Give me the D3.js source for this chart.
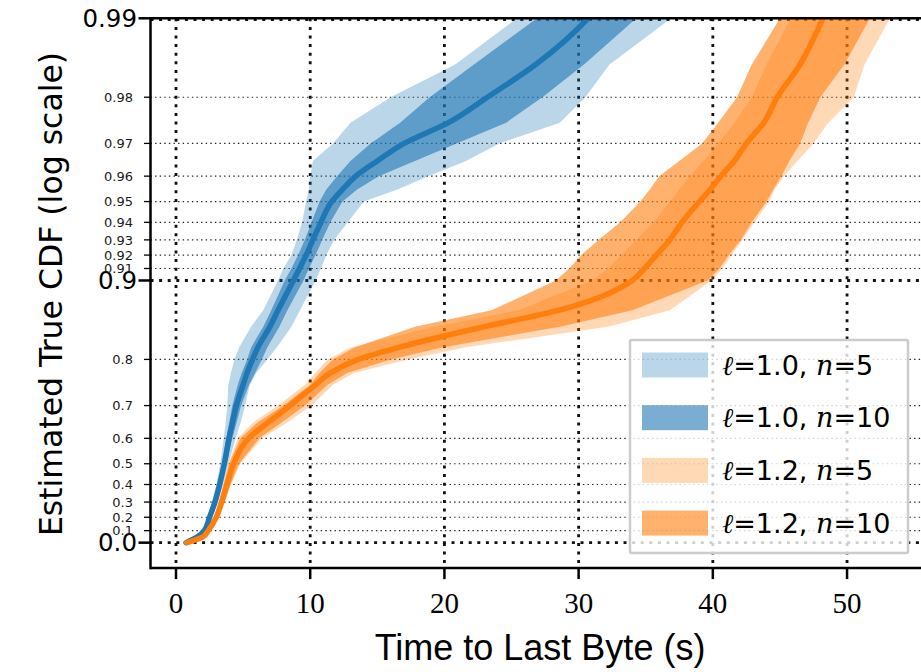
<!DOCTYPE html>
<html><head><meta charset="utf-8">
<script src="https://cdn.jsdelivr.net/npm/d3@7"></script>
<style>body{margin:0;background:#fff}svg{display:block}</style>
</head><body><svg id="c" width="921" height="672"></svg>
<script>
// CDF levels (shared by every band / median)
const P = [0, 0.05, 0.1, 0.2, 0.3, 0.4, 0.5, 0.6, 0.65, 0.7, 0.75, 0.775, 0.8, 0.82, 0.85, 0.87, 0.9, 0.91, 0.92, 0.93, 0.94, 0.95, 0.955, 0.96, 0.965, 0.97, 0.975, 0.98, 0.985, 0.99, 0.993];

// l=1.0 (blue): time (s) at each level
const blueMed  = [0.75, 1.6, 2.1, 2.5, 2.9, 3.25, 3.6, 3.95, 4.2, 4.5, 5.0, 5.3, 5.7, 6.1, 7.0, 7.6, 8.75, 9.2, 9.7, 10.2, 10.8, 11.6, 12.4, 13.4, 15.0, 17.0, 20.3, 23.2, 26.8, 30.7, 33.0];
const blueLo10 = [0.75, 1.55, 2.05, 2.42, 2.8, 3.15, 3.45, 3.75, 3.95, 4.2, 4.6, 4.9, 5.3, 5.6, 6.5, 7.1, 8.1, 8.6, 9.1, 9.6, 10.1, 10.7, 11.2, 12.0, 13.0, 14.5, 16.7, 18.9, 22.2, 26.9, 29.5];
const blueHi10 = [0.75, 1.65, 2.15, 2.58, 3.0, 3.35, 3.75, 4.2, 4.5, 4.85, 5.45, 5.9, 6.4, 6.8, 7.7, 8.3, 9.5, 9.9, 10.4, 10.9, 11.5, 12.4, 13.5, 15.1, 17.8, 20.9, 24.6, 27.3, 30.4, 34.3, 36.5];
const blueLo5  = [0.75, 1.5, 2.0, 2.35, 2.7, 3.0, 3.3, 3.55, 3.7, 3.82, 3.9, 4.1, 4.35, 4.7, 5.6, 6.5, 7.6, 8.0, 8.6, 9.0, 9.4, 9.7, 9.9, 10.0, 10.2, 11.7, 13.0, 16.0, 20.8, 25.4, 28.0];
const blueHi5  = [0.75, 1.7, 2.2, 2.65, 3.1, 3.5, 3.9, 4.45, 4.8, 5.15, 5.5, 6.0, 6.8, 7.5, 8.6, 9.24, 10.4, 10.8, 11.2, 11.8, 12.8, 14.0, 16.5, 18.8, 21.6, 24.1, 28.6, 30.5, 32.3, 36.9, 39.0];

// l=1.2 (orange)
const orangeMed  = [0.8, 2.0, 2.4, 3.0, 3.4, 3.8, 4.3, 5.4, 6.8, 8.5, 10.4, 11.5, 13.6, 16.6, 23.0, 28.5, 34.0, 34.9, 35.8, 36.8, 37.7, 39.0, 39.8, 40.6, 41.6, 42.5, 43.8, 44.8, 46.5, 48.2, 49.5];
const orangeLo10 = [0.8, 1.9, 2.3, 2.85, 3.2, 3.55, 3.95, 4.8, 6.0, 8.0, 10.0, 10.7, 11.7, 13.3, 17.8, 23.5, 28.3, 29.3, 30.2, 31.5, 33.1, 34.6, 35.3, 36.0, 37.5, 39.2, 40.4, 41.8, 42.9, 45.0, 46.0];
const orangeHi10 = [0.8, 2.1, 2.5, 3.15, 3.6, 4.05, 4.7, 6.2, 7.8, 9.6, 11.3, 12.8, 16.0, 19.8, 28.6, 34.0, 39.6, 40.5, 41.2, 42.1, 42.9, 44.0, 44.5, 45.1, 45.7, 46.5, 47.1, 48.0, 49.8, 51.7, 53.0];
const orangeLo5  = [0.8, 1.85, 2.25, 2.8, 3.15, 3.5, 3.9, 4.6, 5.7, 7.6, 9.6, 10.4, 11.3, 13.0, 19.3, 25.5, 31.0, 32.2, 33.2, 34.3, 35.6, 36.8, 37.5, 38.3, 39.3, 40.4, 41.6, 42.9, 44.0, 45.8, 47.0];
const orangeHi5  = [0.8, 2.15, 2.55, 3.2, 3.65, 4.1, 4.8, 6.4, 8.2, 10.1, 11.7, 13.3, 17.3, 21.5, 32.2, 36.8, 39.9, 40.7, 41.4, 42.2, 43.1, 44.2, 44.6, 45.3, 46.3, 47.5, 48.6, 50.5, 51.3, 53.2, 54.5];

const xTicks = [0, 10, 20, 30, 40, 50];
const yMajor = [0.0, 0.9, 0.99];
const yMajorLabels = ["0.0", "0.9", "0.99"];
const yMinor = [0.1, 0.2, 0.3, 0.4, 0.5, 0.6, 0.7, 0.8, 0.91, 0.92, 0.93, 0.94, 0.95, 0.96, 0.97, 0.98];
const yMinorLabels = ["0.1", "0.2", "0.3", "0.4", "0.5", "0.6", "0.7", "0.8", "0.91", "0.92", "0.93", "0.94", "0.95", "0.96", "0.97", "0.98"];

const seriesNames = ["1.0", "1.0", "1.2", "1.2"];
const seriesN = ["5", "10", "5", "10"];

const BLUE = "#1f77b4", ORANGE = "#ff7f0e";

const svg = d3.select("#c");
const L = 150.5, T = 18.3, B = 568.1, R = 947.7;
const x = d3.scaleLinear().domain([-1.9, 57.5]).range([L, R]);
const y = d3.scaleLog().domain([Math.pow(10, 0.097), 0.01]).range([B, T]);
const yp = p => y(1 - p);

svg.append("defs").append("clipPath").attr("id", "clip")
  .append("rect").attr("x", L).attr("y", T).attr("width", R - L).attr("height", B - T);

// grid
const grid = svg.append("g").attr("clip-path", "url(#clip)");
grid.selectAll(".gmin").data(yMinor).join("line")
  .attr("x1", L).attr("x2", R).attr("y1", yp).attr("y2", yp)
  .attr("stroke", "#222").attr("stroke-width", 1.2).attr("stroke-dasharray", "1.4,3.2");
grid.selectAll(".gmaj").data(yMajor).join("line")
  .attr("x1", L).attr("x2", R).attr("y1", d => yp(d) + (d === 0.99 ? 1.2 : 0)).attr("y2", d => yp(d) + (d === 0.99 ? 1.2 : 0))
  .attr("stroke", "#111").attr("stroke-width", 2.8).attr("stroke-dasharray", "3,5.6");
grid.selectAll(".gx").data(xTicks).join("line")
  .attr("x1", x).attr("x2", x).attr("y1", T).attr("y2", B)
  .attr("stroke", "#111").attr("stroke-width", 2.8).attr("stroke-dasharray", "3,5.6");

// bands
const plot = svg.append("g").attr("clip-path", "url(#clip)");
function band(lo, hi, color, op) {
  const area = d3.area()
    .x0((d, i) => x(lo[i])).x1((d, i) => x(hi[i])).y(d => yp(d));
  plot.append("path").datum(P).attr("d", area).attr("fill", color).attr("fill-opacity", op).attr("stroke", "none");
}
function med(m, color) {
  const line = d3.line().x((d, i) => x(m[i])).y(d => yp(d)).curve(d3.curveMonotoneY);
  plot.append("path").datum(P).attr("d", line).attr("fill", "none").attr("stroke", color)
    .attr("stroke-width", 5.5).attr("stroke-linecap", "round").attr("stroke-linejoin", "round");
}
band(blueLo5, blueHi5, BLUE, 0.3);
band(blueLo10, blueHi10, BLUE, 0.6);
band(orangeLo5, orangeHi5, ORANGE, 0.3);
band(orangeLo10, orangeHi10, ORANGE, 0.6);
med(blueMed, BLUE);
med(orangeMed, ORANGE);

// spines
const ax = svg.append("g").attr("stroke", "#000").attr("stroke-width", 2.5);
ax.append("line").attr("x1", L).attr("x2", L).attr("y1", T - 1.2).attr("y2", B + 1.2);
ax.append("line").attr("x1", L).attr("x2", R).attr("y1", B).attr("y2", B);
ax.append("line").attr("x1", L).attr("x2", R).attr("y1", T).attr("y2", T);

// x ticks
svg.append("g").selectAll("line").data(xTicks).join("line")
  .attr("x1", x).attr("x2", x).attr("y1", B).attr("y2", B + 11)
  .attr("stroke", "#000").attr("stroke-width", 2.5);
svg.append("g").selectAll("text").data(xTicks).join("text")
  .attr("x", x).attr("y", 613).attr("text-anchor", "middle")
  .attr("font-family", "Liberation Serif").attr("font-size", 29).attr("fill", "#000")
  .text(d => d);

// y ticks
svg.append("g").selectAll("line").data(yMajor).join("line")
  .attr("x1", L - 12).attr("x2", L).attr("y1", yp).attr("y2", yp)
  .attr("stroke", "#000").attr("stroke-width", 2.5);
svg.append("g").selectAll("line").data(yMinor).join("line")
  .attr("x1", L - 6.5).attr("x2", L).attr("y1", yp).attr("y2", yp)
  .attr("stroke", "#000").attr("stroke-width", 1.3);
svg.append("g").selectAll("text").data(yMajor).join("text")
  .attr("x", 137).attr("y", yp).attr("dy", "0.36em").attr("text-anchor", "end")
  .attr("font-family", "DejaVu Sans").attr("font-size", 24.5).attr("fill", "#000")
  .text((d, i) => yMajorLabels[i]);
svg.append("g").selectAll("text").data(yMinor).join("text")
  .attr("x", 133).attr("y", yp).attr("dy", "0.36em").attr("text-anchor", "end")
  .attr("font-family", "DejaVu Sans").attr("font-size", 13).attr("fill", "#1a1a1a")
  .text((d, i) => yMinorLabels[i]);

// axis labels
svg.append("text").attr("transform", "translate(62,294) rotate(-90)")
  .attr("text-anchor", "middle").attr("font-family", "DejaVu Sans").attr("font-size", 31.5)
  .attr("fill", "#000").text("Estimated True CDF (log scale)");
svg.append("text").attr("x", 540).attr("y", 660).attr("text-anchor", "middle")
  .attr("font-family", "Liberation Sans").attr("font-size", 36).attr("fill", "#000")
  .text("Time to Last Byte (s)");

// legend
const lg = svg.append("g");
lg.append("rect").attr("x", 630).attr("y", 340).attr("width", 278).attr("height", 213).attr("rx", 2)
  .attr("fill", "#fff").attr("fill-opacity", 0.8).attr("stroke", "#ccc").attr("stroke-width", 2.5);
const legColors = [BLUE, BLUE, ORANGE, ORANGE];
const legOps = [0.3, 0.6, 0.3, 0.6];
const rows = lg.selectAll("g.row").data(seriesNames).join("g").attr("class", "row")
  .attr("transform", (d, i) => `translate(0,${365 + i * 52.7})`);
rows.append("rect").attr("x", 642).attr("y", -12.5).attr("width", 66).attr("height", 25)
  .attr("fill", (d, i) => legColors[i]).attr("fill-opacity", (d, i) => legOps[i]);
const tx = rows.append("text").attr("x", 722).attr("y", 9.5)
  .attr("font-family", "DejaVu Sans").attr("font-size", 27).attr("fill", "#000");
tx.append("tspan").attr("font-family", "DejaVu Serif").attr("font-style", "italic").text("ℓ");
tx.append("tspan").text(d => "=" + d + ", ");
tx.append("tspan").attr("font-family", "DejaVu Serif").attr("font-style", "italic").text("n");
tx.append("tspan").text((d, i) => "=" + seriesN[i]);
</script></body></html>
